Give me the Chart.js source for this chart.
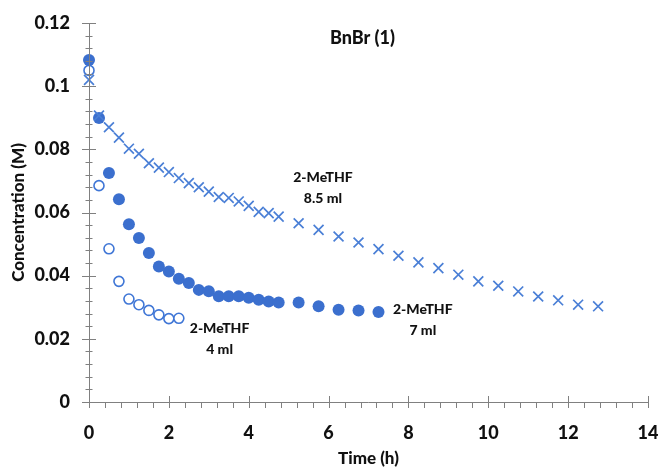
<!DOCTYPE html>
<html>
<head>
  <meta charset="UTF-8">
  <title>BnBr (1)</title>
  <script src="https://cdn.jsdelivr.net/npm/chart.js@4.4.0/dist/chart.umd.min.js"></script>
  <style>
    html, body { margin: 0; padding: 0; background: #fff; }
  </style>
</head>
<body>
<canvas id="myChart" width="659" height="467"></canvas>
<script>
  // 2-MeTHF 4 ml (open circles)
  const time4 = [0, 0.25, 0.5, 0.75, 1, 1.25, 1.5, 1.75, 2, 2.25];
  const conc4 = [0.105, 0.0685, 0.0485, 0.0382, 0.0326, 0.0308, 0.029, 0.0276, 0.0264, 0.0265];

  // 2-MeTHF 7 ml (filled circles)
  const time7 = [0, 0.25, 0.5, 0.75, 1, 1.25, 1.5, 1.75, 2, 2.25, 2.5, 2.75, 3, 3.25, 3.5, 3.75, 4, 4.25, 4.5, 4.75, 5.25, 5.75, 6.25, 6.75, 7.25];
  const conc7 = [0.1083, 0.0899, 0.0725, 0.0642, 0.0563, 0.0519, 0.0472, 0.0429, 0.0413, 0.039, 0.0377, 0.0355, 0.0351, 0.0335, 0.0335, 0.0335, 0.033, 0.0324, 0.0318, 0.0315, 0.0315, 0.0303, 0.0292, 0.029, 0.0285];

  // 2-MeTHF 8.5 ml (crosses)
  const time85 = [0, 0.25, 0.5, 0.75, 1, 1.25, 1.5, 1.75, 2, 2.25, 2.5, 2.75, 3, 3.25, 3.5, 3.75, 4, 4.25, 4.5, 4.75,
                  5.25, 5.75, 6.25, 6.75, 7.25, 7.75, 8.25, 8.75, 9.25, 9.75, 10.25, 10.75, 11.25, 11.75, 12.25, 12.75];
  const conc85 = [0.102, 0.0907, 0.087, 0.0837, 0.0802, 0.0786, 0.0756, 0.0742, 0.0728, 0.0709, 0.0693, 0.068, 0.0666, 0.0649, 0.0646, 0.0635, 0.0621, 0.0602, 0.0598, 0.0587,
                  0.0566, 0.0545, 0.0524, 0.0505, 0.0484, 0.0463, 0.0442, 0.0424, 0.0403, 0.0382, 0.0368, 0.035, 0.0334, 0.0322, 0.0308, 0.0303];

  // axis ticks
  const xMajor = [0, 2, 4, 6, 8, 10, 12, 14];
  const yMajor = [0, 0.02, 0.04, 0.06, 0.08, 0.1, 0.12];

  // text on the plot
  const chartTitle = 'BnBr (1)';
  const notes = [
    { lines: ['2-MeTHF', '8.5 ml'], x: 5.86, y: 0.071 },
    { lines: ['2-MeTHF', '7 ml'], x: 8.36, y: 0.0292 },
    { lines: ['2-MeTHF', '4 ml'], x: 3.27, y: 0.0232 }
  ];

  function pts(xs, ys) {
    return xs.map(function(x, i) { return { x: x, y: ys[i] }; });
  }

  const FONT = 'Lato, "Open Sans", sans-serif';
  const axisColor = '#808080';

  // ticks crossing the axes, title and notes
  const decor = {
    id: 'decor',
    afterDraw: function(chart) {
      const ctx = chart.ctx;
      const xs = chart.scales.x, ys = chart.scales.y;
      const a = chart.chartArea;
      ctx.save();
      ctx.strokeStyle = axisColor;
      ctx.lineWidth = 1;
      ctx.beginPath();
      ctx.moveTo(a.left + 0.5, a.top);
      ctx.lineTo(a.left + 0.5, a.bottom + 0.5);
      ctx.lineTo(a.right, a.bottom + 0.5);
      for (let i = 0; i <= 30; i++) {
        const v = i * 0.004;
        const py = Math.round(ys.getPixelForValue(v)) + 0.5;
        const len = (i % 5 === 0) ? 7 : 3.5;
        ctx.moveTo(a.left - len, py);
        ctx.lineTo(a.left + len, py);
      }
      for (let i = 0; i <= 35; i++) {
        const v = i * 0.4;
        const px = Math.round(xs.getPixelForValue(v)) + 0.5;
        if (i % 5 === 0) {
          ctx.moveTo(px, a.bottom - 6);
          ctx.lineTo(px, a.bottom + 6);
        } else {
          ctx.moveTo(px, a.bottom);
          ctx.lineTo(px, a.bottom + 6);
        }
      }
      ctx.stroke();

      ctx.fillStyle = '#111';
      ctx.textAlign = 'center';
      ctx.textBaseline = 'middle';
      ctx.font = '900 18px ' + FONT;
      ctx.fillText(chartTitle, xs.getPixelForValue(6.85), 38);

      ctx.font = '900 14px ' + FONT;
      notes.forEach(function(n) {
        const px = xs.getPixelForValue(n.x);
        const py = ys.getPixelForValue(n.y);
        n.lines.forEach(function(t, k) {
          ctx.fillText(t, px, py + k * 21);
        });
      });
      ctx.restore();
    }
  };

  function noPad(s) {
    s.paddingTop = 0; s.paddingBottom = 0; s.paddingLeft = 0; s.paddingRight = 0;
  }

  const ctx = document.getElementById('myChart').getContext('2d');
  const chart = new Chart(ctx, {
    type: 'scatter',
    data: {
      datasets: [{
        label: '2-MeTHF 8.5 ml',
        data: pts(time85, conc85),
        pointStyle: 'crossRot',
        pointRadius: 7,
        borderColor: '#4a7fd6',
        borderWidth: 1.7,
        backgroundColor: '#4a7fd6',
        clip: false
      }, {
        label: '2-MeTHF 7 ml',
        data: pts(time7, conc7),
        pointStyle: 'circle',
        pointRadius: 6,
        borderWidth: 0,
        backgroundColor: '#3b6fce',
        clip: false
      }, {
        label: '2-MeTHF 4 ml',
        data: pts(time4, conc4),
        pointStyle: 'circle',
        pointRadius: 5,
        borderWidth: 1.6,
        borderColor: '#3f76d6',
        backgroundColor: '#ffffff',
        clip: false
      }]
    },
    options: {
      responsive: false,
      animation: false,
      devicePixelRatio: 1,
      layout: { padding: { left: 0, right: 11, top: 23, bottom: 0 } },
      plugins: {
        legend: { display: false },
        tooltip: { enabled: false }
      },
      scales: {
        x: {
          type: 'linear',
          min: 0,
          max: 14,
          afterBuildTicks: function(s) { s.ticks = xMajor.map(function(v) { return { value: v }; }); },
          afterFit: function(s) { s.height = 65; noPad(s); },
          grid: { display: false, drawTicks: false },
          border: { display: false },
          ticks: {
            padding: 20,
            color: '#111',
            font: { family: FONT, size: 18, weight: '900' },
            maxRotation: 0
          },
          title: {
            display: true,
            text: 'Time (h)',
            color: '#111',
            font: { family: FONT, size: 17, weight: '900', lineHeight: 1 },
            padding: { top: 0, bottom: 0 }
          }
        },
        y: {
          type: 'linear',
          min: 0,
          max: 0.12,
          afterBuildTicks: function(s) { s.ticks = yMajor.map(function(v) { return { value: v }; }); },
          afterFit: function(s) { s.width = 89; noPad(s); },
          grid: { display: false, drawTicks: false },
          border: { display: false },
          ticks: {
            padding: 19,
            color: '#111',
            font: { family: FONT, size: 18, weight: '900' },
            callback: function(v) { return String(Math.round(v * 100) / 100); }
          },
          title: {
            display: true,
            text: 'Concentration (M)',
            color: '#111',
            font: { family: FONT, size: 17, weight: '900', lineHeight: 1 },
            padding: { top: 10, bottom: 0 }
          }
        }
      }
    },
    plugins: [decor]
  });
</script>
</body>
</html>
